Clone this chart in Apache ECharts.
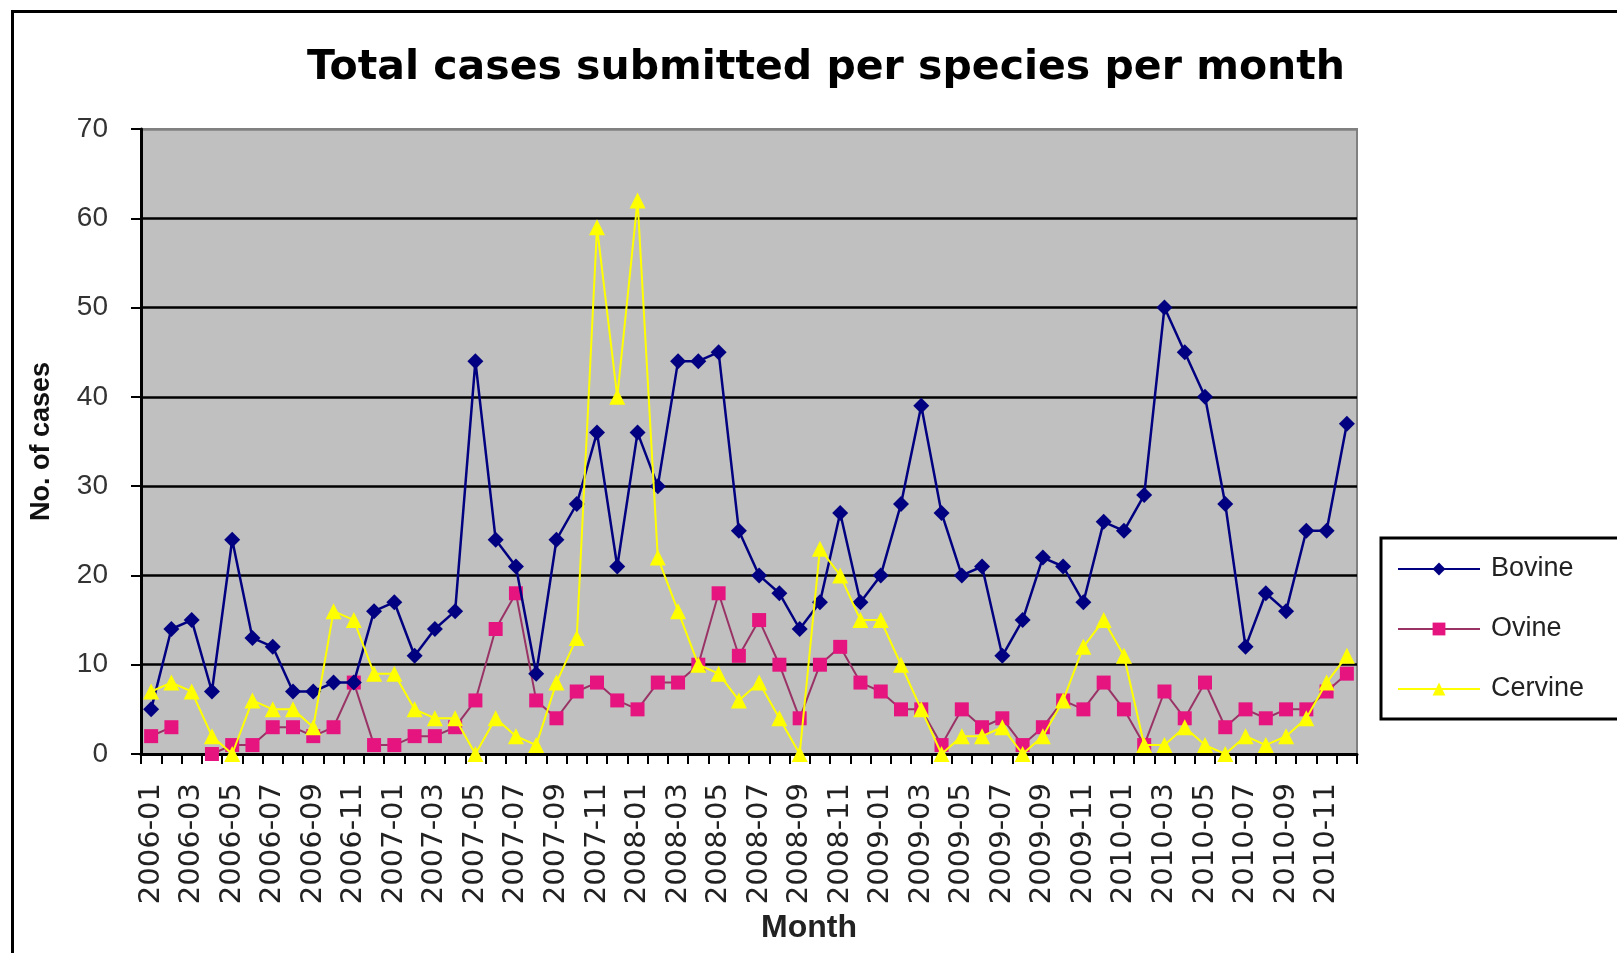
<!DOCTYPE html>
<html>
<head>
<meta charset="utf-8">
<script src="https://cdn.jsdelivr.net/npm/echarts@6/dist/echarts.min.js"></script>
<style>
html,body{margin:0;padding:0;background:#fff;}
#chart{width:1617px;height:953px;}
</style>
</head>
<body>
<div id="chart"></div>
<script>
const months = [
 '2006-01','2006-02','2006-03','2006-04','2006-05','2006-06','2006-07','2006-08','2006-09','2006-10','2006-11','2006-12',
 '2007-01','2007-02','2007-03','2007-04','2007-05','2007-06','2007-07','2007-08','2007-09','2007-10','2007-11','2007-12',
 '2008-01','2008-02','2008-03','2008-04','2008-05','2008-06','2008-07','2008-08','2008-09','2008-10','2008-11','2008-12',
 '2009-01','2009-02','2009-03','2009-04','2009-05','2009-06','2009-07','2009-08','2009-09','2009-10','2009-11','2009-12',
 '2010-01','2010-02','2010-03','2010-04','2010-05','2010-06','2010-07','2010-08','2010-09','2010-10','2010-11','2010-12'
];
const bovine = [5,14,15,7,24,13,12,7,7,8, 8,16,17,11,14,16,44,24,21,9, 24,28,36,21,36,30,44,44,45,25,
                20,18,14,17,27,17,20,28,39,27, 20,21,11,15,22,21,17,26,25,29, 50,45,40,28,12,18,16,25,25,37];
const ovine  = [2,3,null,0,1,1,3,3,2,3, 8,1,1,2,2,3,6,14,18,6, 4,7,8,6,5,8,8,10,18,11,
                15,10,4,10,12,8,7,5,5,1, 5,3,4,1,3,6,5,8,5,1, 7,4,8,3,5,4,5,5,7,9];
const cervine= [7,8,7,2,0,6,5,5,3,16, 15,9,9,5,4,4,0,4,2,1, 8,13,59,40,62,22,16,10,9,6,
                8,4,0,23,20,15,15,10,5,0, 2,2,3,0,2,6,12,15,11,1, 1,3,1,0,2,1,2,4,8,11];
const yTicks = [0,10,20,30,40,50,60,70];
const seriesNames = ['Bovine','Ovine','Cervine'];

const chart = echarts.init(document.getElementById('chart'), null, {renderer:'canvas'});
const font = 'Liberation Sans, Arial, sans-serif';
chart.setOption({
  animation:false,
  backgroundColor:'#ffffff',
  textStyle:{fontFamily:font},
  title:{
    text:'Total cases submitted per species per month',
    left:821, top:43, textAlign:'center',
    textStyle:{fontSize:41, fontWeight:'bold', color:'#000', fontFamily:'DejaVu Sans'}
  },
  graphic:[{
    type:'rect', left:10, top:9, silent:true,
    shape:{x:0,y:0,width:1700,height:1000},
    style:{fill:'none', stroke:'#000', lineWidth:3}
  }],
  legend:{
    orient:'vertical', left:1381, top:538,
    data:seriesNames,
    itemWidth:82, itemHeight:16, itemGap:30,
    padding:[16,80,15,16],
    borderColor:'#000', borderWidth:3, backgroundColor:'#fff',
    textStyle:{fontSize:27, color:'#222', lineHeight:30, padding:[0,0,0,6], fontFamily:font}
  },
  grid:{left:141, top:129, width:1216, height:625, show:true,
        backgroundColor:'#C0C0C0', borderColor:'#808080', borderWidth:2},
  xAxis:{
    type:'category', data:months, boundaryGap:true,
    name:'Month', nameLocation:'middle', nameGap:158,
    nameTextStyle:{fontSize:32, fontWeight:'bold', color:'#222', padding:[0,0,0,120], fontFamily:font},
    axisLine:{lineStyle:{color:'#000', width:3}},
    axisTick:{show:true, interval:0, length:10, inside:false, lineStyle:{color:'#000', width:2}},
    axisLabel:{interval:1, rotate:90, margin:29, fontSize:29, color:'#222', fontFamily:'DejaVu Sans'},
    splitLine:{show:false}
  },
  yAxis:{
    type:'value', min:yTicks[0], max:yTicks[yTicks.length-1], interval:10,
    name:'No. of cases', nameLocation:'middle', nameGap:86,
    nameTextStyle:{fontSize:27, fontWeight:'bold', color:'#111', fontFamily:font},
    axisLine:{show:true, lineStyle:{color:'#000', width:3}},
    axisTick:{show:true, length:10, lineStyle:{color:'#000', width:2}},
    axisLabel:{fontSize:28, color:'#333', margin:33, fontFamily:font},
    splitLine:{show:true, lineStyle:{color:['#000','#000','#000','#000','#000','#000','#000','#808080'], width:2.5}}
  },
  series:[
    {name:'Bovine', type:'line', data:bovine, symbol:'diamond', symbolSize:16, showAllSymbol:true,
     lineStyle:{color:'#000080', width:2.5}, itemStyle:{color:'#000080'}, connectNulls:false, z:3},
    {name:'Ovine', type:'line', data:ovine, symbol:'rect', symbolSize:14, showAllSymbol:true,
     lineStyle:{color:'#993366', width:2}, itemStyle:{color:'#E6147F'}, connectNulls:false, z:2},
    {name:'Cervine', type:'line', data:cervine, symbol:'triangle', symbolSize:16, showAllSymbol:true,
     lineStyle:{color:'#FFFF00', width:2}, itemStyle:{color:'#FFFF00'}, connectNulls:false, z:4}
  ]
});
</script>
</body>
</html>
